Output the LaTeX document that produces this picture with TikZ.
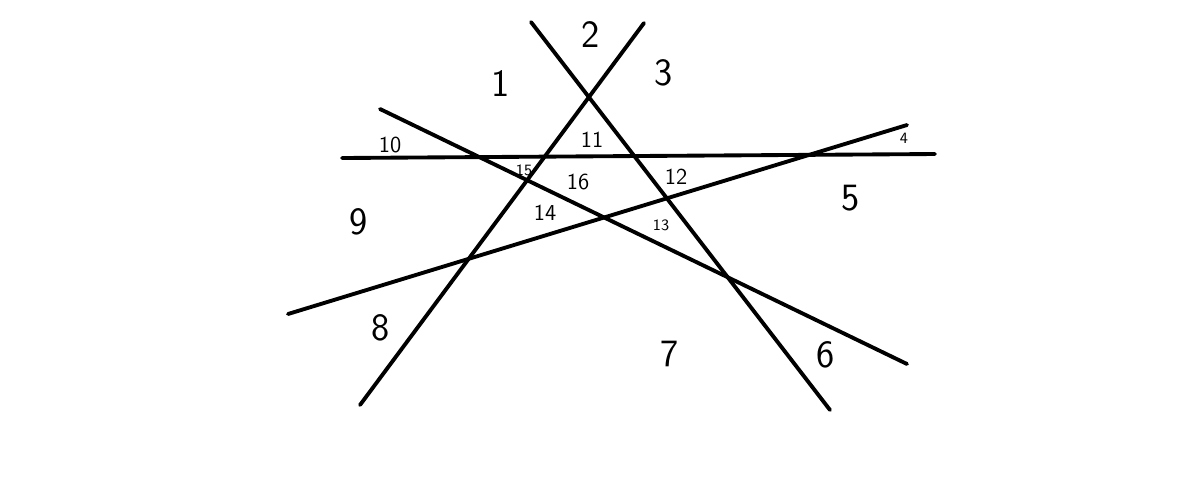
\documentclass[tikz,border=0pt]{standalone}
\usepackage{tikz}
\usetikzlibrary{positioning}

\begin{document}
\begin{tikzpicture}[x=0.02cm, y=-0.02cm,
      cut/.style={line width=2.2pt, line cap=round},
      bigno/.style={font=\fontsize{22}{24}\selectfont\sffamily},
      midno/.style={font=\fontsize{13}{15}\selectfont\sffamily},
      smallno/.style={font=\fontsize{9}{10}\selectfont\sffamily}]

    \useasboundingbox (0,0) rectangle (1200,485);

    % end points of the five lines
    \coordinate (a1) at (531,22);  \coordinate (a2) at (830,410);
    \coordinate (b1) at (644,23);  \coordinate (b2) at (360,405);
    \coordinate (c1) at (342,158); \coordinate (c2) at (935,154);
    \coordinate (d1) at (380,109); \coordinate (d2) at (907,364);
    \coordinate (e1) at (288,314); \coordinate (e2) at (907,125);

    \draw[cut] (a1) -- (a2);
    \draw[cut] (b1) -- (b2);
    \draw[cut] (c1) -- (c2);
    \draw[cut] (d1) -- (d2);
    \draw[cut] (e1) -- (e2);

    % region numbers
    \node[bigno] (r1) at (501,84) {1};
    \node[bigno] (r2) at (591,35) {2};
    \node[bigno] (r3) at (664,73) {3};
    \node[smallno] (r4) at (904,138) {4};
    \node[bigno] (r5) at (851,198) {5};
    \node[bigno] (r6) at (826,355) {6};
    \node[bigno] (r7) at (670,354) {7};
    \node[bigno] (r8) at (381,328) {8};
    \node[bigno] (r9) at (359,222) {9};
    \node[midno] (r10) at (390,145) {10};
    \node[midno] (r11) at (592,140) {11};
    \node[midno] (r12) at (676,177) {12};
    \node[smallno] (r13) at (661,225) {13};
    \node[midno] (r14) at (545,213) {14};
    \node[smallno] (r15) at (524,170) {15};
    \node[midno] (r16) at (578,182) {16};
  \end{tikzpicture}
\end{document}
